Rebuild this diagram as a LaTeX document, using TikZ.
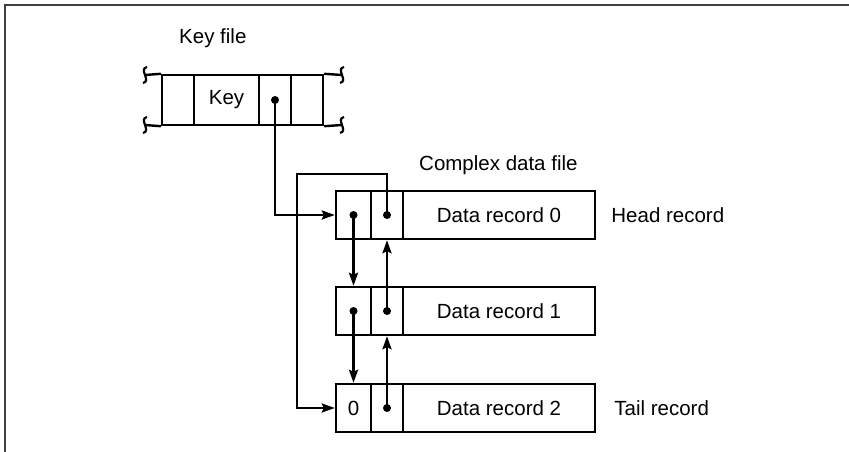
\documentclass[tikz,border=0pt]{standalone}
\usepackage{fontspec}
\setmainfont{Liberation Sans}
\usetikzlibrary{arrows.meta,positioning}
\begin{document}
\begin{tikzpicture}[x=1pt,y=-1pt,line width=2.4pt,
  cell/.style={draw,rectangle,inner sep=0pt,minimum height=48pt,
    font=\fontsize{20.5}{24}\selectfont},
  ptr/.style={-{Stealth[length=13pt,width=9pt,inset=2pt]}},
  lbl/.style={anchor=west,inner sep=0pt,font=\fontsize{20.5}{24}\selectfont}]
\useasboundingbox (0,0) rectangle (849,452);
% frame
\draw[line width=1.2pt,black!75] (849,5) -- (5,5) -- (5,452);
% key file
\node[lbl] (keyfile) at (178,38) {Key file};
\node[cell,minimum width=32pt,minimum height=50pt] (k1) at (178,100) {};
\node[cell,minimum width=65pt,minimum height=50pt] (key) at (226.5,100) {Key};
\node[cell,minimum width=32pt,minimum height=50pt] (kp) at (275,100) {};
\node[cell,minimum width=32pt,minimum height=50pt] (k4) at (307,100) {};
\draw (145,75) -- (k1.north west) (k4.north east) -- (342,75);
\draw (145,125) -- (k1.south west) (k4.south east) -- (342,125);
\foreach \x in {145,342}
  \foreach \y in {75,125}
    \draw[line width=2.2pt] (\x+2,\y-8) .. controls (\x-7,\y-6) and (\x+7,\y+6) .. (\x-2,\y+8);
% data file
\node[lbl] (cdf) at (418,165) {Complex data file};
\foreach \i/\y in {0/215,1/311,2/408} {
  \node[cell,minimum width=35pt] (next\i) at (353.5,\y) {};
  \node[cell,minimum width=32pt] (prev\i) at (387,\y) {};
  \node[cell,minimum width=192pt] (rec\i) at (499,\y) {Data record \i};
}
\node[font=\fontsize{20.5}{24}\selectfont] (nil) at (next2) {0};
\node[lbl,right=14pt of rec0] (head) {Head record};
\node[lbl,right=17pt of rec2] (tail) {Tail record};
% pointers
\foreach \c in {kp,next0,next1,prev0,prev1,prev2}
  \fill (\c) circle (4pt);
\draw[ptr] (kp.center) |- (next0.west);
\draw[ptr] (next0.center) -- (next1.north);
\draw[ptr] (next1.center) -- (next2.north);
\draw[ptr] (prev1.center) -- (prev0.south);
\draw[ptr] (prev2.center) -- (prev1.south);
% head back to tail
\coordinate (wrap) at (297,174);
\draw[ptr] (prev0.center) |- (wrap) |- (next2.west);
\end{tikzpicture}
\end{document}
